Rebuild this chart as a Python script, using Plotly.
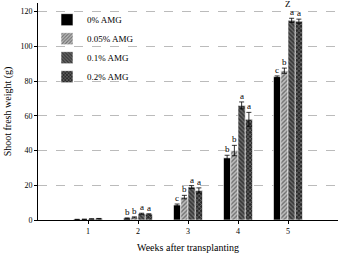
import plotly.graph_objects as go

weeks = [1, 2, 3, 4, 5]
series_names = ["0% AMG", "0.05% AMG", "0.1% AMG", "0.2% AMG"]
values = [
    [0.3, 1.0, 8.6, 35.8, 82.5],
    [0.4, 1.5, 13.2, 40.0, 86.0],
    [0.6, 3.6, 19.0, 66.0, 115.0],
    [0.8, 3.3, 17.0, 58.0, 114.5],
]
errors = [
    [0.1, 0.2, 0.6, 1.5, 0.5],
    [0.1, 0.3, 1.0, 3.0, 1.5],
    [0.1, 0.3, 0.8, 2.0, 1.2],
    [0.1, 0.3, 1.5, 4.0, 1.2],
]
letters = [
    ["", "b", "c", "b", "c"],
    ["", "b", "b", "b", "b"],
    ["", "a", "a", "a", "a"],
    ["", "a", "a", "a", "a"],
]
group_label = {5: "Z"}

fills = ["black", "#9a9a9a", "#3a3a3a", "#2a2a2a"]
patterns = [
    dict(shape=""),
    dict(shape="/", fgcolor="#222222", bgcolor="#bdbdbd", size=3, solidity=0.45),
    dict(shape="\\", fgcolor="#000000", bgcolor="#6a6a6a", size=3, solidity=0.5),
    dict(shape="x", fgcolor="#e0e0e0", bgcolor="#2a2a2a", size=3, solidity=0.35),
]

font_family = "Liberation Serif"
bargap = 0.42
n = len(series_names)
bw = (1 - bargap) / n

fig = go.Figure()
for i, name in enumerate(series_names):
    fig.add_trace(go.Bar(
        x=weeks, y=values[i], name=name,
        marker=dict(color=fills[i], pattern=patterns[i], line=dict(color="white", width=0.6)),
        error_y=dict(type="data", array=errors[i], color="black", thickness=0.8, width=2.5),
    ))

annotations = []
for i in range(n):
    off = (i - (n - 1) / 2) * bw
    for j, w in enumerate(weeks):
        if letters[i][j]:
            annotations.append(dict(
                x=w + off, y=values[i][j] + errors[i][j], text=letters[i][j],
                showarrow=False, yanchor="bottom", yshift=-1,
                font=dict(family=font_family, size=9, color="#000000"),
            ))
for w, t in group_label.items():
    j = weeks.index(w)
    top = max(values[i][j] + errors[i][j] for i in range(n))
    annotations.append(dict(
        x=w, y=top, text=t, showarrow=False, yanchor="bottom", yshift=7,
        font=dict(family=font_family, size=9, color="#000000"),
    ))

fig.update_layout(
    width=338, height=253,
    margin=dict(l=38, r=0, t=3, b=33),
    paper_bgcolor="white", plot_bgcolor="white",
    barmode="group", bargap=bargap, bargroupgap=0,
    font=dict(family=font_family, size=8, color="#000000"),
    showlegend=True,
    legend=dict(x=0.03, y=0.99, xanchor="left", yanchor="top",
                bgcolor="rgba(0,0,0,0)", font=dict(size=9, family=font_family, color="#000000"),
                itemwidth=30, tracegroupgap=0),
    annotations=annotations,
)
fig.update_xaxes(
    range=[0, 6], tickvals=weeks, ticktext=[str(w) for w in weeks],
    showline=True, linecolor="black", linewidth=1, automargin=False,
    ticks="outside", ticklen=3, tickcolor="black", showgrid=False, zeroline=False,
    title=dict(text="Weeks after transplanting", font=dict(size=10, family=font_family, color="#000000"), standoff=16),
    tickfont=dict(size=8, family=font_family),
)
fig.update_yaxes(
    range=[0, 125], tickvals=[0, 20, 40, 60, 80, 100, 120],
    showline=True, linecolor="black", linewidth=1, automargin=False,
    ticks="outside", ticklen=3, tickcolor="black",
    showgrid=True, gridcolor="#bbbbbb", griddash="dash", gridwidth=0.8, zeroline=False,
    title=dict(text="Shoot fresh weight (g)", font=dict(size=10, family=font_family, color="#000000"), standoff=6),
    tickfont=dict(size=8, family=font_family),
)

fig.write_html("out.html")
